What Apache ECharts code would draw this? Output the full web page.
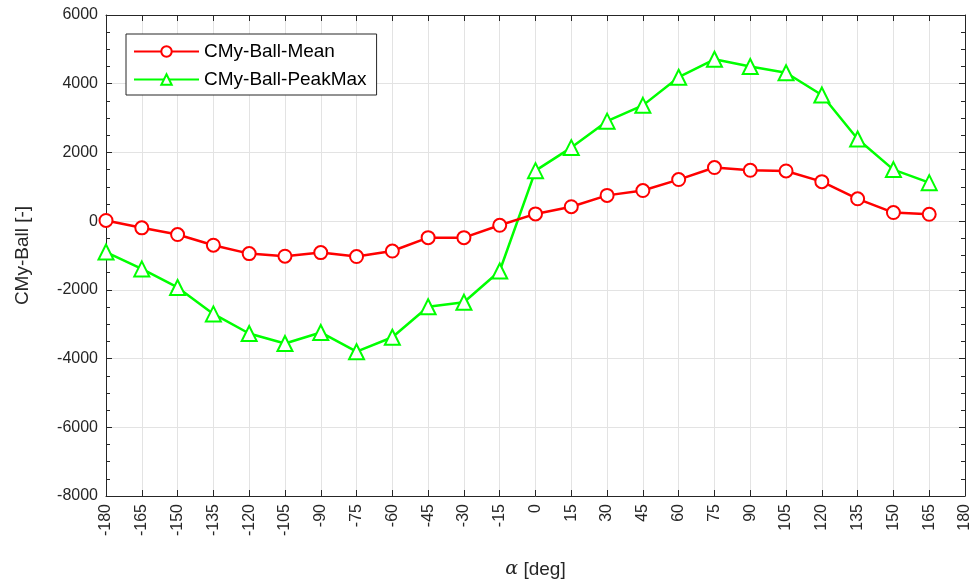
<!DOCTYPE html>
<html><head><meta charset="utf-8">
<script src="https://cdn.jsdelivr.net/npm/echarts@6/dist/echarts.min.js"></script>
<style>html,body{margin:0;padding:0;background:#fff}#c{width:979px;height:587px}</style>
</head><body><div id="c"></div>
<script>
const alphas = [-180,-165,-150,-135,-120,-105,-90,-75,-60,-45,-30,-15,0,15,30,45,60,75,90,105,120,135,150,165];
const meanVals = [20,-195,-390,-700,-945,-1020,-915,-1030,-870,-480,-480,-120,210,420,750,890,1210,1560,1480,1460,1150,650,250,200];
const peakVals = [-900,-1390,-1930,-2700,-3270,-3560,-3240,-3800,-3380,-2490,-2360,-1450,1470,2140,2910,3370,4190,4710,4500,4320,3670,2390,1500,1120];
const seriesNames = ['CMy-Ball-Mean','CMy-Ball-PeakMax'];
const xTicks = {min:-180, max:180, interval:15};
const yTicks = {min:-8000, max:6000, interval:2000};

const font = 'Liberation Sans, Arial, Helvetica, sans-serif';
const axCol = '#262626';
const chart = echarts.init(document.getElementById('c'));
const pair = vals => alphas.map((a,i)=>[a, vals[i]]);
const baseX = {
  type:'value', min:xTicks.min, max:xTicks.max, interval:xTicks.interval,
  axisLine:{show:true, onZero:false, lineStyle:{color:axCol, width:1}},
  axisTick:{show:true, inside:true, length:6, lineStyle:{color:axCol}},
  splitLine:{show:false}
};
const baseY = {
  type:'value', min:yTicks.min, max:yTicks.max, interval:yTicks.interval,
  axisLine:{show:true, onZero:false, lineStyle:{color:axCol, width:1}},
  axisTick:{show:true, inside:true, length:6, lineStyle:{color:axCol}},
  minorTick:{show:true, splitNumber:4, length:4, lineStyle:{color:axCol}},
  splitLine:{show:false}
};
chart.setOption({
  animation:false,
  backgroundColor:'#fff',
  grid:{left:106, right:14, top:15, bottom:91},
  legend:{
    left:126, top:34, orient:'vertical', itemWidth:65, itemHeight:13, itemGap:9,
    padding:[8,10,6,7],
    borderColor:'#262626', borderWidth:1, backgroundColor:'#fff',
    textStyle:{fontFamily:font, fontSize:19, color:'#000'},
    data:seriesNames
  },
  xAxis:[
    Object.assign({}, baseX, {
      position:'bottom',
      axisLabel:{rotate:90, fontFamily:font, fontSize:16, color:axCol, margin:8, formatter:v=>String(v)},
      splitLine:{show:true, lineStyle:{color:'#e3e3e3', width:1}},
      name:'{a|α} [deg]', nameLocation:'middle', nameGap:64,
      nameTextStyle:{fontFamily:font, fontSize:19, color:axCol,
        rich:{a:{fontFamily:'DejaVu Serif, serif', fontStyle:'italic', fontSize:19, color:axCol}}}
    }),
    Object.assign({}, baseX, {position:'top', axisLabel:{show:false}})
  ],
  yAxis:[
    Object.assign({}, baseY, {
      position:'left',
      axisLabel:{fontFamily:font, fontSize:16, color:axCol, margin:8, formatter:v=>String(v)},
      splitLine:{show:true, lineStyle:{color:'#e3e3e3', width:1}},
      name:'CMy-Ball [-]', nameLocation:'middle', nameGap:74, nameRotate:90,
      nameTextStyle:{fontFamily:font, fontSize:19, color:axCol}
    }),
    Object.assign({}, baseY, {position:'right', axisLabel:{show:false}})
  ],
  series:[
    {name:seriesNames[0], type:'line', data:pair(meanVals), symbol:'emptyCircle', symbolSize:13,
     color:'#ff0000', lineStyle:{width:2.5, color:'#ff0000'}, itemStyle:{color:'#ff0000', borderColor:'#ff0000', borderWidth:2.5}, z:3},
    {name:seriesNames[1], type:'line', data:pair(peakVals), symbol:'emptyTriangle', symbolSize:15,
     color:'#00ff00', lineStyle:{width:2.5, color:'#00ff00'}, itemStyle:{color:'#00ff00', borderColor:'#00ff00', borderWidth:2.5}, z:2}
  ]
});
</script></body></html>
